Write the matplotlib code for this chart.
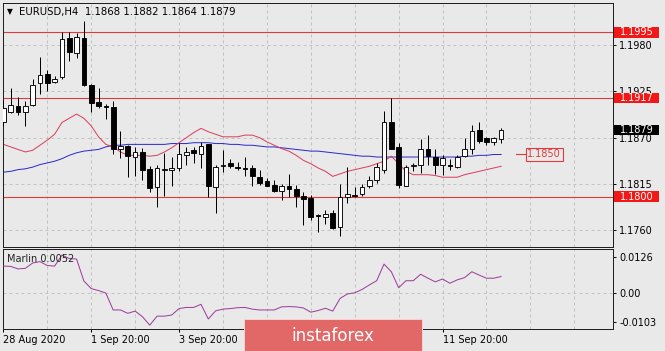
import matplotlib
matplotlib.use('Agg')
import matplotlib.pyplot as plt
from matplotlib.patches import Rectangle
import matplotlib.transforms as mtrans
import numpy as np

plt.rcParams['font.family'] = ['DejaVu Sans']

# ---------------- data ----------------
opens = [1.1889, 1.1900, 1.1908, 1.1900, 1.1909, 1.1935, 1.1945, 1.1936, 1.1942, 1.1988,
         1.1971, 1.1988, 1.1933, 1.1912, 1.1908, 1.1906, 1.1856, 1.1860, 1.1847, 1.1853,
         1.1833, 1.1811, 1.1832, 1.1831, 1.1834, 1.1849, 1.1855, 1.1851, 1.1862, 1.1811,
         1.1836, 1.1840, 1.1835, 1.1834, 1.1834, 1.1823, 1.1818, 1.1814, 1.1807, 1.1813,
         1.1809, 1.1801, 1.1798, 1.1778, 1.1776, 1.1780, 1.1764, 1.1800, 1.1802, 1.1803,
         1.1812, 1.1820, 1.1832, 1.1889, 1.1859, 1.1813, 1.1836, 1.1837, 1.1856, 1.1847,
         1.1837, 1.1837, 1.1835, 1.1848, 1.1856, 1.1879, 1.1869, 1.1865, 1.1868]
highs = [1.1915, 1.1929, 1.1918, 1.1913, 1.1940, 1.1966, 1.1950, 1.1943, 1.1996, 1.1996,
         1.1994, 1.2009, 1.1934, 1.1929, 1.1910, 1.1913, 1.1878, 1.1861, 1.1859, 1.1858,
         1.1836, 1.1837, 1.1852, 1.1847, 1.1864, 1.1859, 1.1859, 1.1865, 1.1863, 1.1837,
         1.1855, 1.1845, 1.1841, 1.1847, 1.1837, 1.1832, 1.1822, 1.1820, 1.1815, 1.1827,
         1.1814, 1.1806, 1.1802, 1.1779, 1.1784, 1.1784, 1.1815, 1.1835, 1.1811, 1.1815,
         1.1824, 1.1840, 1.1902, 1.1917, 1.1864, 1.1837, 1.1840, 1.1868, 1.1873, 1.1856,
         1.1849, 1.1845, 1.1849, 1.1869, 1.1885, 1.1888, 1.1871, 1.1871, 1.1882]
lows = [1.1884, 1.1899, 1.1897, 1.1884, 1.1908, 1.1922, 1.1925, 1.1935, 1.1940, 1.1961,
        1.1964, 1.1931, 1.1901, 1.1905, 1.1892, 1.1851, 1.1846, 1.1823, 1.1824, 1.1820,
        1.1805, 1.1788, 1.1801, 1.1812, 1.1830, 1.1837, 1.1840, 1.1834, 1.1800, 1.1781,
        1.1829, 1.1834, 1.1831, 1.1824, 1.1813, 1.1814, 1.1812, 1.1806, 1.1796, 1.1799,
        1.1788, 1.1766, 1.1772, 1.1758, 1.1767, 1.1761, 1.1753, 1.1792, 1.1799, 1.1801,
        1.1810, 1.1816, 1.1828, 1.1856, 1.1810, 1.1812, 1.1830, 1.1828, 1.1837, 1.1827,
        1.1826, 1.1832, 1.1834, 1.1847, 1.1851, 1.1864, 1.1861, 1.1861, 1.1864]
closes = [1.1905, 1.1909, 1.1900, 1.1908, 1.1933, 1.1944, 1.1935, 1.1940, 1.1987, 1.1972,
          1.1989, 1.1932, 1.1911, 1.1908, 1.1906, 1.1857, 1.1860, 1.1848, 1.1853, 1.1831,
          1.1810, 1.1834, 1.1833, 1.1834, 1.1851, 1.1853, 1.1852, 1.1860, 1.1813, 1.1835,
          1.1837, 1.1836, 1.1834, 1.1833, 1.1824, 1.1816, 1.1813, 1.1807, 1.1812, 1.1809,
          1.1801, 1.1797, 1.1776, 1.1777, 1.1779, 1.1763, 1.1799, 1.1803, 1.1801, 1.1811,
          1.1820, 1.1835, 1.1888, 1.1857, 1.1814, 1.1835, 1.1837, 1.1857, 1.1848, 1.1837,
          1.1846, 1.1836, 1.1847, 1.1857, 1.1878, 1.1866, 1.1865, 1.1869, 1.1879]
ma_red = [1.1862, 1.1859, 1.1856, 1.1853, 1.1855, 1.1861, 1.1867, 1.1874, 1.1888, 1.1893,
          1.1898, 1.1893, 1.1884, 1.1871, 1.1862, 1.1859, 1.1853, 1.1849, 1.1849, 1.1849,
          1.1848, 1.1849, 1.1853, 1.1858, 1.1864, 1.1870, 1.1876, 1.1881, 1.1877, 1.1874,
          1.1871, 1.1871, 1.1871, 1.1873, 1.1873, 1.1870, 1.1865, 1.1861, 1.1857, 1.1854,
          1.1849, 1.1843, 1.1839, 1.1834, 1.1830, 1.1824, 1.1827, 1.1830, 1.1832, 1.1834,
          1.1836, 1.1839, 1.1842, 1.1848, 1.1839, 1.1830, 1.1826, 1.1826, 1.1826, 1.1825,
          1.1823, 1.1823, 1.1823, 1.1826, 1.1828, 1.1830, 1.1832, 1.1834, 1.1836]
ma_blue = [1.1829, 1.1830, 1.1832, 1.1833, 1.1835, 1.1838, 1.1840, 1.1842, 1.1845, 1.1849,
           1.1852, 1.1854, 1.1855, 1.1856, 1.1859, 1.1861, 1.1861, 1.1862, 1.1862, 1.1862,
           1.1862, 1.1862, 1.1862, 1.1863, 1.1863, 1.1863, 1.1864, 1.1864, 1.1864, 1.1863,
           1.1863, 1.1862, 1.1862, 1.1861, 1.1861, 1.1860, 1.1859, 1.1859, 1.1858, 1.1857,
           1.1856, 1.1855, 1.1854, 1.1854, 1.1853, 1.1852, 1.1851, 1.1850, 1.1849, 1.1848,
           1.1848, 1.1847, 1.1847, 1.1847, 1.1847, 1.1847, 1.1847, 1.1847, 1.1847, 1.1847,
           1.1847, 1.1847, 1.1847, 1.1848, 1.1848, 1.1849, 1.1849, 1.1850, 1.1850]
marlin = [0.0095, 0.0094, 0.0085, 0.0087, 0.0106, 0.0111, 0.0097, 0.0095, 0.0134, 0.0122,
          0.0120, 0.0042, 0.0015, 0.0008, -0.0001, -0.0061, -0.0061, -0.0073, -0.0065, -0.0085,
          -0.0115, -0.0083, -0.0083, -0.0079, -0.0056, -0.0052, -0.0052, -0.0041, -0.0093, -0.0064,
          -0.0058, -0.0056, -0.0053, -0.0052, -0.0058, -0.0061, -0.0061, -0.0061, -0.0050, -0.0049,
          -0.0050, -0.0054, -0.0069, -0.0063, -0.0055, -0.0065, -0.0020, -0.0004, 0.0000, 0.0012,
          0.0028, 0.0043, 0.0102, 0.0075, 0.0018, 0.0043, 0.0043, 0.0066, 0.0052, 0.0039,
          0.0049, 0.0034, 0.0046, 0.0054, 0.0075, 0.0063, 0.0052, 0.0052, 0.0058]

levels = [1.1995, 1.1917, 1.1800]
target_level = 1.1850
last_price = 1.1879
price_ticks = [1.1760, 1.1815, 1.1870, 1.1925, 1.1980]
marlin_ticks = [-0.0103, 0.0, 0.0126]
marlin_tick_labels = ['-0.0103', '0.00', '0.0126']
time_tick_pos = [0, 12, 24, 36, 48, 60]
# labels at 36 and 48 sit under the watermark in the reference, so they are left blank
time_tick_labels = ['28 Aug 2020', '1 Sep 20:00', '3 Sep 20:00', '', '', '11 Sep 20:00']
header = 'EURUSD,H4  1.1868 1.1882 1.1864 1.1879'
marlin_label = 'Marlin 0.0052'

# ---------------- style ----------------
W, H = 665, 351
BG = '#E9E9E9'
GRID = '#C2C2C2'
PX = 0.72  # one pixel in points at dpi 100

fig = plt.figure(figsize=(W / 100, H / 100), dpi=100, facecolor=BG)

def rect(x0, y0, x1, y1):
    return [x0 / W, 1 - y1 / H, (x1 - x0) / W, (y1 - y0) / H]

ax = fig.add_axes(rect(3, 3, 613, 246.7), facecolor=BG)
axm = fig.add_axes(rect(3, 249, 613, 329), facecolor=BG)

n = len(opens)
x = np.arange(n)
xlim = (-0.05, -0.05 + 610 / 7.32)

for a in (ax, axm):
    a.set_xlim(*xlim)
    for s in a.spines.values():
        s.set_color('#202020')
        s.set_linewidth(1.0 * PX)
    for gx in range(6, 84, 6):
        a.axvline(gx, color=GRID, lw=PX, dashes=(3, 3), zorder=0.5)

ax.set_ylim(1.17405, 1.20299)
axm.set_ylim(-0.01287, 0.01558)

# price grid
for p in price_ticks:
    ax.axhline(p, color=GRID, lw=PX, dashes=(3, 3), zorder=0.5)
axm.axhline(0.0, color=GRID, lw=PX, dashes=(3, 3), zorder=0.5)

# horizontal levels
for lv in levels:
    ax.axhline(lv, color='#E03A3A', lw=1.1 * PX, zorder=1)

# moving averages
ax.plot(x, ma_blue, color='#2B2BD0', lw=1.0 * PX, zorder=2)
ax.plot(x, ma_red, color='#D8405E', lw=1.0 * PX, zorder=2)

# candles
o = np.array(opens); c = np.array(closes); hi = np.array(highs); lo = np.array(lows)
ax.vlines(x, lo, hi, color='black', lw=1.0 * PX, zorder=3)
up = c >= o
bot = np.minimum(o, c)
hgt = np.maximum(np.abs(c - o), 0.00004)
ax.bar(x[up], hgt[up], bottom=bot[up], width=0.64, facecolor='white',
       edgecolor='black', linewidth=0.9 * PX, zorder=4)
ax.bar(x[~up], hgt[~up], bottom=bot[~up], width=0.64, facecolor='black',
       edgecolor='black', linewidth=0.9 * PX, zorder=4)

# marlin
axm.plot(x, marlin, color='#9B3C9B', lw=1.0 * PX, zorder=3)

# ticks
ax.yaxis.tick_right()
ax.set_yticks(price_ticks)
ax.set_yticklabels(['%.4f' % p for p in price_ticks])
ax.set_xticks([])
ax.tick_params(axis='y', length=3 * PX, width=PX, pad=2.2, labelsize=7, colors='black')

axm.yaxis.tick_right()
axm.set_yticks(marlin_ticks)
axm.set_yticklabels(marlin_tick_labels)
axm.set_xticks(time_tick_pos)
axm.set_xticklabels(time_tick_labels)
axm.tick_params(axis='y', length=3 * PX, width=PX, pad=2.2, labelsize=7)
axm.tick_params(axis='x', length=3 * PX, width=PX, pad=2.5, labelsize=7)
for t in axm.get_xticklabels():
    t.set_ha('left')

# right-side price label boxes
bt = mtrans.blended_transform_factory(ax.transAxes, ax.transData)
def side_label(val, face):
    half = 0.00063
    ax.add_patch(Rectangle((1 + 1 / 610, val - half), 45 / 610, 2 * half, transform=bt,
                           facecolor=face, edgecolor='none', clip_on=False, zorder=10))
    ax.text(1 + 23.5 / 610, val, '%.4f' % val, transform=bt, color='white', fontsize=7,
            ha='center', va='center', clip_on=False, zorder=11)

for lv in levels:
    side_label(lv, '#F21818')
side_label(last_price, '#000000')

# target label inside chart
ax.plot([70.1, 71.4], [target_level, target_level], color='#E03A3A', lw=1.1 * PX, zorder=5)
ax.add_patch(Rectangle((71.4, target_level - 0.0008), 5.0, 0.0016, facecolor=BG,
                       edgecolor='#E03A3A', lw=1.1 * PX, zorder=5))
ax.text(73.9, target_level, '%.4f' % target_level, color='#E03A3A', fontsize=7,
        ha='center', va='center', zorder=6)

# header texts
fig.text(7 / W, 1 - 11.5 / H, '\u25BC', fontsize=5.5, ha='left', va='center', color='black')
fig.text(19 / W, 1 - 11.5 / H, header, fontsize=7.3, ha='left', va='center', color='black')
fig.text(7 / W, 1 - 259.5 / H, marlin_label, fontsize=7, ha='left', va='center', color='#222222')

# watermark banner
fig.patches.append(Rectangle((244 / W, 0), (422 - 244) / W, (351 - 319) / H,
                             transform=fig.transFigure, facecolor='#E26868',
                             edgecolor='#F5D0D0', lw=PX, zorder=20))
fig.text(333 / W, 1 - 336 / H, 'instaforex', fontsize=12, color='white',
         ha='center', va='center', zorder=21)

fig.savefig('out.png', dpi=100, facecolor=BG)
